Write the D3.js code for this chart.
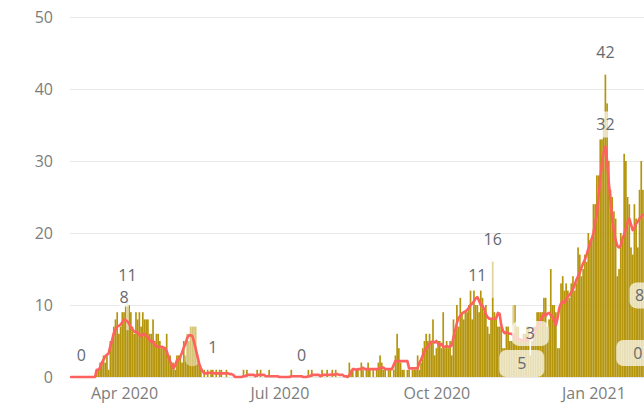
<!DOCTYPE html>
<html>
<head>
<meta charset="utf-8">
<script src="https://cdn.jsdelivr.net/npm/d3@7"></script>
<style>
  html, body { margin: 0; padding: 0; background: #fff; }
  svg { display: block; font-family: "Segoe UI", "Open Sans", "Noto Sans", sans-serif; }
</style>
</head>
<body>
<svg id="chart" width="644" height="405"></svg>
<script>
// Daily new cases from 1 March 2020, one value per day
const firstDay = "2020-03-01";
const dailyCases = [
  0,0,0,0,0,0,0,0,0,0,0,0,0,0,0,
  1,1,2,2,3,2,3,1,5,5,
  7,8,9,6,7,9,9,10,11,10,
  9,7,6,9,8,9,7,9,8,8,
  8,6,6,8,5,6,6,5,4,4,
  4,6,3,3,2,2,1,3,3,3,
  2,5,3,6,5,7,7,7,7,3,
  2,1,0,1,0,1,0,1,1,0,
  1,0,1,1,0,0,1,0,0,0,
  0,0,0,0,0,0,1,0,1,0,
  0,0,0,0,1,0,1,0,0,0,
  0,1,0,0,0,0,0,0,0,0,
  0,0,0,0,1,0,0,0,0,0,
  0,0,0,0,1,0,1,0,0,0,
  0,0,1,0,0,1,0,0,1,0,
  1,0,0,0,0,0,0,0,2,1,
  1,0,1,1,0,2,1,0,1,2,
  1,0,1,0,1,2,3,2,1,1,
  0,1,1,0,1,3,6,4,2,1,
  1,0,1,1,0,1,1,1,3,1,
  2,4,5,6,5,6,5,8,3,4,
  5,5,4,9,4,5,4,5,3,8,
  6,10,7,11,9,8,9,9,10,12,
  8,12,10,10,9,12,11,9,10,7,
  6,8,16,9,8,7,7,7,4,4,
  7,7,5,5,10,10,7,7,5,5,
  6,6,7,7,3,5,7,7,9,9,
  9,9,11,11,7,8,15,10,10,9,
  4,4,13,14,12,13,12,11,13,14,
  12,13,18,17,14,15,17,16,20,19,
  19,24,24,28,28,33,33,36,42,38,
  30,26,25,23,22,14,15,20,19,31,
  30,25,24,18,17,24,22,18,26,30,26,22
];

// 7-day average of new cases, same days
const sevenDayAvg = [
  0,0,0,0,0,0,0,0,0,0,0,0,0,0,0,
  1,1,1.3,2,2.4,2.9,3.1,3.3,4.3,5.1,
  6.1,6.6,7,7.1,7.3,7.6,8,7.9,7.7,7.4,
  6.9,6.6,6.3,6.3,6.1,5.9,5.7,5.9,6,5.7,
  5.6,5.1,4.9,5,4.4,4.3,4.2,4.2,4.2,4.1,
  4,3.6,2.8,2.2,1.6,1.2,1.6,2.3,2.4,2.8,
  3.4,4.1,4.6,5.4,5.8,5.8,5.7,4.9,3.9,2.9,
  1.9,1.2,0.8,0.5,0.5,0.5,0.6,0.6,0.6,0.5,
  0.5,0.5,0.5,0.5,0.5,0.5,0.5,0.5,0.4,0.4,
  0.3,0,0,0,0,0,0.1,0.1,0.3,0.3,
  0.3,0.3,0.3,0.1,0.3,0.3,0.3,0.3,0.3,0.1,
  0.1,0.1,0.1,0.1,0.1,0.1,0.1,0,0,0,
  0,0,0,0,0.1,0.1,0.1,0.1,0.1,0.1,
  0.1,0,0,0,0.1,0.1,0.3,0.3,0.3,0.3,
  0.3,0.1,0.3,0.3,0.3,0.3,0.3,0.3,0.4,0.3,
  0.4,0.4,0.3,0.3,0.3,0.1,0.1,0,0.3,0.6,
  1.1,1.1,1,1.1,1.1,1.1,1.3,1.1,1.1,1.1,
  1.1,1.1,1.1,1.1,1.1,1.1,1.3,1.3,1.3,1.1,
  1.1,1.1,1.1,1.1,1.7,2.2,2.2,2.2,2.2,2.2,
  2.2,2.2,2.2,1.2,1.2,1.2,1.2,1.2,1.2,2,
  2.4,3,3.5,4,4.2,4.6,4.9,4.9,4.8,5,
  4.6,4.4,4.6,4.2,4.2,4.3,4.2,4.2,4.4,5.5,
  6.5,7.5,8.2,8.5,8.8,9,9.1,9.3,9.6,10,
  10.2,10.5,10.9,11.1,10.6,10,9.9,9.4,8.7,8.3,
  8.1,8.1,8.1,8.1,8.1,8.9,8.8,7.2,6.4,6.1,
  6.2,6.1,6,6,5.8,5.6,5.4,5.3,5.2,5.1,
  5.1,5.1,5.1,5.2,5.3,5.6,6,6.4,6.9,7.4,
  7.8,8.4,8.8,8.5,8.8,8.9,8.6,8.4,7.8,7.2,
  8.2,9.6,10.2,10.5,10.3,10.8,11.2,11.4,11.8,12.2,
  12.8,13.5,14,14.5,15.2,15.8,16.3,17,17.8,18.5,
  19.2,20,21.5,22.5,25,27.5,29.8,31.2,32,30,
  27,24.5,22,20.3,19,18.2,18,18.3,19.2,19.8,
  20.6,21.5,22,21.2,20.4,20.6,21.3,21.6,22,22.3,22.5,22.6
];

const yTickValues = [0, 10, 20, 30, 40, 50];
const xTickDates = ["2020-04-01", "2020-07-01", "2020-10-01", "2021-01-01"];

// Data labels: day index, which series the value comes from, placement, optional box
const valueLabels = [
  { day: 6,   series: "bar" },
  { day: 33,  series: "bar" },
  { day: 31,  series: "line", box: [16, 19] },
  { day: 83,  series: "bar" },
  { day: 135, series: "bar" },
  { day: 238, series: "line" },
  { day: 247, series: "bar" },
  { day: 269, series: "bar", box: [37, 25] },
  { day: 264, series: "bar", base: true, box: [45, 27] },
  { day: 313, series: "bar" },
  { day: 313, series: "line", box: [24, 26] }
];

// Labels at the right edge whose series is not drawn
const edgeNotes = [
  { day: 333, value: 8, box: [30, 26] },
  { day: 332, value: 0, box: [45, 26] }
];

// Pale highlighted spans on top of a few bars: [day, low value, high value, width in days, opacity]
const paleSpans = [
  [33, 6.5, 11, 1, 0.6],
  [247, 11, 16, 1, 0.6],
  [259, 6, 10, 1, 0.55],
  [71, 1.5, 7.5, 8, 0.45]
];

const W = 644, H = 405;
const svg = d3.select("#chart");

const parse = d3.utcParse("%Y-%m-%d");
const start = parse(firstDay);
const days = dailyCases.map((_, i) => d3.utcDay.offset(start, i));

const pxPerDay = 1.707;
const x0 = 71.1;
const x = d3.scaleUtc()
  .domain([start, d3.utcDay.offset(start, dailyCases.length)])
  .range([x0, x0 + pxPerDay * dailyCases.length]);
const y = d3.scaleLinear().domain([0, 50]).range([377, 17]);

const fontStack = "\"Segoe UI\", \"Open Sans\", \"Noto Sans\", sans-serif";

// Horizontal gridlines
svg.append("g")
  .selectAll("line")
  .data(yTickValues)
  .join("line")
  .attr("x1", 70).attr("x2", W)
  .attr("y1", d => y(d) + 0.5).attr("y2", d => y(d) + 0.5)
  .attr("stroke", "#e9e9e9")
  .attr("stroke-width", 1);

// Y axis labels
const yAxis = svg.append("g")
  .attr("transform", "translate(70,0)")
  .call(d3.axisLeft(y).tickValues(yTickValues).tickSize(0).tickPadding(17));
yAxis.select(".domain").remove();
yAxis.selectAll("text")
  .attr("fill", "#7d7d7d")
  .style("font-size", "16px")
  .style("font-family", fontStack);

// X axis labels
const xAxis = svg.append("g")
  .attr("transform", `translate(0,${y(0)})`)
  .call(d3.axisBottom(x)
    .tickValues(xTickDates.map(parse))
    .tickFormat(d3.utcFormat("%b %Y"))
    .tickSize(0)
    .tickPadding(11));
xAxis.select(".domain").remove();
xAxis.selectAll("text")
  .attr("fill", "#7d7d7d")
  .style("font-size", "16px")
  .style("font-family", fontStack);

// Daily bars
const barW = 1.68;
svg.append("g")
  .selectAll("rect")
  .data(dailyCases.map((v, i) => ({ date: days[i], v })))
  .join("rect")
  .attr("x", d => x(d.date) - barW / 2)
  .attr("width", barW)
  .attr("y", d => y(d.v))
  .attr("height", d => y(0) - y(d.v))
  .attr("fill", "#b5950b");

// Pale highlight spans
svg.append("g")
  .selectAll("rect")
  .data(paleSpans)
  .join("rect")
  .attr("x", d => x(days[d[0]]) - (d[3] * pxPerDay) / 2 - 0.4)
  .attr("width", d => d[3] * pxPerDay + 0.8)
  .attr("y", d => y(d[2]))
  .attr("height", d => y(d[1]) - y(d[2]))
  .attr("rx", d => d[3] > 1 ? 7 : 0)
  .attr("fill", "#fff")
  .attr("opacity", d => d[4]);

// 7-day average line
svg.append("path")
  .datum(sevenDayAvg.map((v, i) => ({ date: days[i], v })))
  .attr("fill", "none")
  .attr("stroke", "#fd625e")
  .attr("stroke-width", 2.6)
  .attr("stroke-linejoin", "round")
  .attr("stroke-linecap", "round")
  .attr("d", d3.line().x(d => x(d.date)).y(d => y(d.v)));

// Data labels
const fmt = d3.format(".0f");
const labelG = svg.append("g");
const labelItems = valueLabels.map(l => {
  const v = l.series === "bar" ? dailyCases[l.day] : sevenDayAvg[l.day];
  const cx = x(days[l.day]);
  const cy = l.base ? y(0) - 13.5 : y(v) - 22;
  return { text: fmt(v), cx, cy, box: l.box, bx: cx };
}).concat(edgeNotes.map(n => {
  const cx = x(days[n.day]);
  return { text: fmt(n.value), cx, cy: y(n.value) - 24, box: n.box, bx: cx + (n.box[0] > 40 ? 1 : 5) };
}));

labelG.selectAll("rect")
  .data(labelItems.filter(d => d.box))
  .join("rect")
  .attr("x", d => d.bx - d.box[0] / 2)
  .attr("y", d => d.cy - d.box[1] / 2)
  .attr("width", d => d.box[0])
  .attr("height", d => d.box[1])
  .attr("rx", 7)
  .attr("fill", "#fff")
  .attr("opacity", 0.7);

labelG.selectAll("text")
  .data(labelItems)
  .join("text")
  .attr("x", d => d.cx)
  .attr("y", d => d.cy)
  .attr("dy", "0.35em")
  .attr("text-anchor", "middle")
  .attr("fill", "#666a70")
  .style("font-size", "16px")
  .text(d => d.text);
</script>
</body>
</html>
